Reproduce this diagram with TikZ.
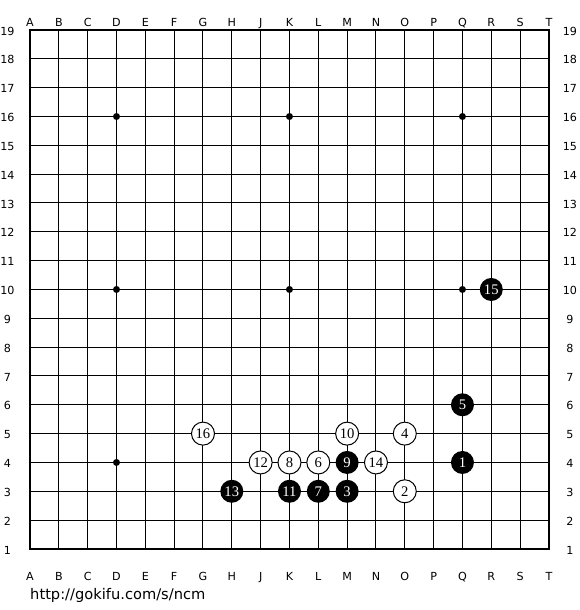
\documentclass[tikz,border=0pt]{standalone}
\usepackage{fontspec}
\setmainfont{DejaVu Sans}
\newfontfamily\stonefont{Liberation Serif}
\usetikzlibrary{positioning}

\begin{document}
\begin{tikzpicture}[
		x=0.3mm, y=-0.3mm,
		every node/.style={font=\fontsize{9.5}{11}\selectfont},
		gridline/.style={line width=0.3mm},
		edgeline/.style={line width=0.75mm},
		hoshi/.style={circle, fill=black, inner sep=0pt, minimum size=2.1mm},
		blackstone/.style={circle, fill=black, text=white, inner sep=0pt, minimum size=6.9mm, font=\stonefont\fontsize{12.5}{14}\selectfont},
		whitestone/.style={circle, draw=black, fill=white, line width=0.3mm, inner sep=0pt, minimum size=6.9mm, font=\stonefont\fontsize{12.5}{14}\selectfont},
		coordlabel/.style={inner sep=0pt, text height=1.6ex, text depth=0pt},
		]
		\useasboundingbox (0,0) rectangle (580,610);
		
		% Points of the board
		\foreach \c [count=\i] in {A,B,C,D,E,F,G,H,J,K,L,M,N,O,P,Q,R,S,T} {
			\foreach \r in {1,...,19} {
				\coordinate (\c\r) at ({30+28.83*(\i-1)}, {30+28.83*(19-\r)});
			}
		}
		
		% Grid
		\foreach \c in {B,C,D,E,F,G,H,J,K,L,M,N,O,P,Q,R,S}
			\draw[gridline] (\c1) -- (\c19);
		\foreach \r in {2,...,18}
			\draw[gridline] (A\r) -- (T\r);
		\draw[edgeline] (A1) rectangle (T19);
		
		% Letters and numbers round the board
		\foreach \c in {A,B,C,D,E,F,G,H,J,K,L,M,N,O,P,Q,R,S,T} {
			\node[coordlabel] (top\c) at ([yshift=2.7mm]\c19) {\c};
			\node[coordlabel] (bot\c) at ([yshift=-7.8mm]\c1) {\c};
		}
		\foreach \r in {1,...,19} {
			\node[coordlabel] (left\r) at ([xshift=-6.8mm]A\r) {\r};
			\node[coordlabel] (right\r) at ([xshift=6.3mm]T\r) {\r};
		}
		
		% Star points
		\foreach \p in {D16,K16,Q16,D10,K10,Q10,D4}
			\node[hoshi] (hoshi\p) at (\p) {};
		
		% Moves
		\node[blackstone] (move1) at (Q4) {1};
		\node[whitestone] (move2) at (O3) {2};
		\node[blackstone] (move3) at (M3) {3};
		\node[whitestone] (move4) at (O5) {4};
		\node[blackstone] (move5) at (Q6) {5};
		\node[whitestone] (move6) at (L4) {6};
		\node[blackstone] (move7) at (L3) {7};
		\node[whitestone] (move8) at (K4) {8};
		\node[blackstone] (move9) at (M4) {9};
		\node[whitestone] (move10) at (M5) {10};
		\node[blackstone] (move11) at (K3) {11};
		\node[whitestone] (move12) at (J4) {12};
		\node[blackstone] (move13) at (H3) {13};
		\node[whitestone] (move14) at (N4) {14};
		\node[blackstone] (move15) at (R10) {15};
		\node[whitestone] (move16) at (G5) {16};
		
		% Source
		\node[anchor=west, inner sep=0pt, font=\fontsize{12.5}{14}\selectfont] (source) at (30,595) {http://gokifu.com/s/ncm};
		
\end{tikzpicture}
\end{document}
